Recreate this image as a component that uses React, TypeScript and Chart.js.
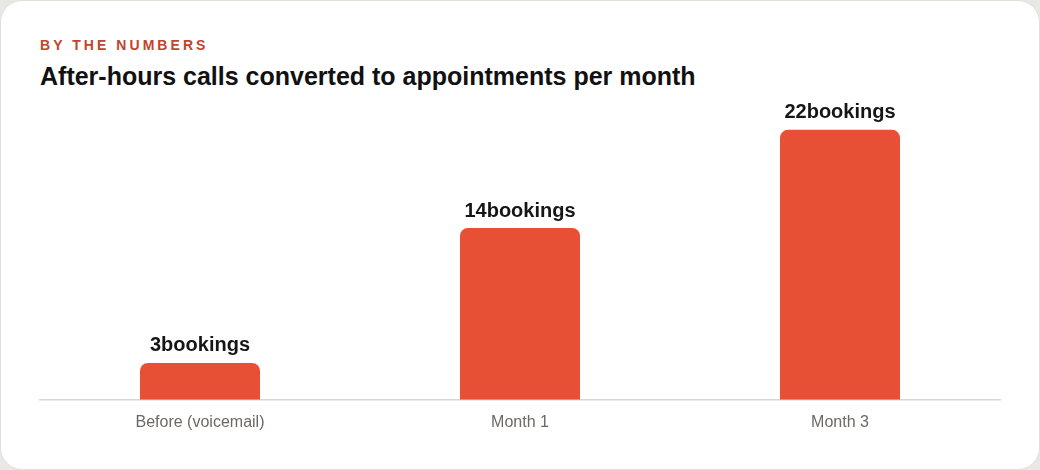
import React, { useEffect, useRef } from "react";
import { Chart, registerables } from "chart.js";

Chart.register(...registerables);

const categories = ["Before (voicemail)", "Month 1", "Month 3"];
const bookings = [3, 14, 22];
const labelSuffix = "bookings";
const eyebrow = "BY THE NUMBERS";
const title = "After-hours calls converted to appointments per month";

const FONT = "'Liberation Sans', Arial, Helvetica, sans-serif";

const valueLabels = {
  id: "valueLabels",
  afterDatasetsDraw(chart: any) {
    const ctx = chart.ctx;
    const meta = chart.getDatasetMeta(0);
    ctx.save();
    ctx.font = `bold 20px ${FONT}`;
    ctx.fillStyle = "#161616";
    ctx.textAlign = "center";
    ctx.textBaseline = "bottom";
    meta.data.forEach((el: any, i: number) => {
      ctx.fillText(`${bookings[i]}${labelSuffix}`, el.x, el.y - 7);
    });
    ctx.restore();
  },
};

export default function App() {
  const ref = useRef<HTMLCanvasElement>(null);
  useEffect(() => {
    document.body.style.margin = "0";
    const chart = new Chart(ref.current!, {
      type: "bar",
      data: {
        labels: categories,
        datasets: [
          {
            data: bookings,
            backgroundColor: "#E85035",
            borderRadius: 8,
            borderSkipped: "bottom",
            barPercentage: 0.375,
            categoryPercentage: 1,
          },
        ],
      },
      options: {
        animation: false,
        responsive: false,
        maintainAspectRatio: false,
        layout: { padding: { left: 40, right: 40, top: 93, bottom: 25 } },
        plugins: { legend: { display: false }, tooltip: { enabled: false } },
        scales: {
          y: { display: false, min: 0, max: 25 },
          x: {
            grid: { display: false, drawTicks: false },
            border: { display: true, color: "#d9d5d0", width: 1.5 },
            ticks: { color: "#6e6862", font: { family: FONT, size: 16 }, padding: 13 },
          },
        },
      },
      plugins: [valueLabels],
    });
    return () => chart.destroy();
  }, []);

  return (
    <div style={{ position: "fixed", inset: 0, background: "#e9e8e4" }}>
      <div
        style={{
          position: "absolute",
          left: 0,
          top: 0,
          width: 1038,
          height: 468,
          background: "#ffffff",
          border: "1px solid #e2dfda",
          borderRadius: 22,
          overflow: "hidden",
        }}
      >
        <div
          style={{
            position: "absolute",
            left: 39,
            top: 36,
            fontFamily: FONT,
            fontWeight: 700,
            fontSize: 14,
            letterSpacing: 3.05,
            color: "#C4432C",
            lineHeight: "16px",
          }}
        >
          {eyebrow}
        </div>
        <div
          style={{
            position: "absolute",
            left: 39,
            top: 60,
            fontFamily: FONT,
            fontWeight: 700,
            fontSize: 25,
            color: "#111111",
            lineHeight: "30px",
          }}
        >
          {title}
        </div>
        <canvas
          ref={ref}
          width={1040}
          height={470}
          style={{ position: "absolute", left: -1, top: -1 }}
        />
      </div>
    </div>
  );
}
